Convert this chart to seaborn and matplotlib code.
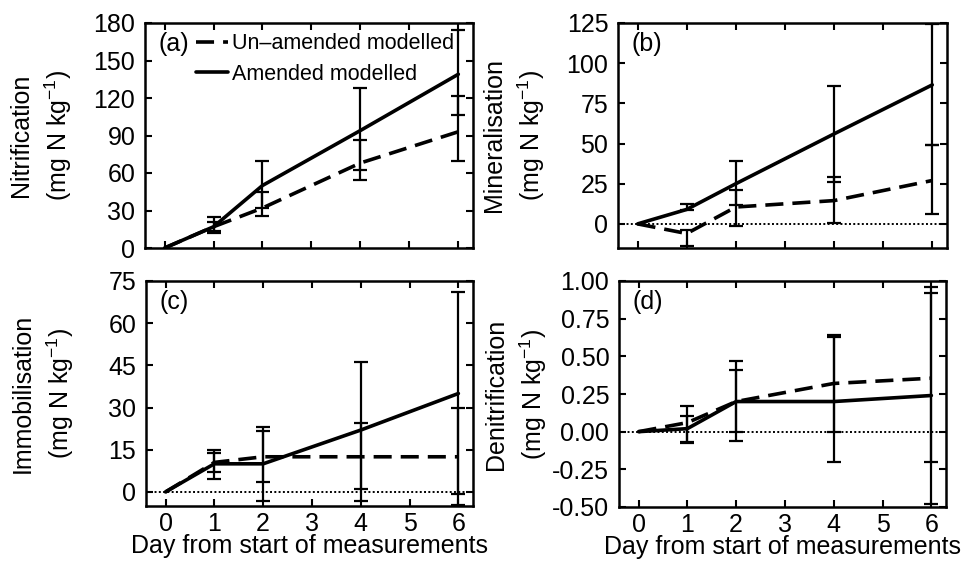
import matplotlib
matplotlib.use("Agg")
import numpy as np
import pandas as pd
import matplotlib.pyplot as plt
from matplotlib.lines import Line2D
import seaborn as sns

sns.set_style("ticks")
plt.rcParams["font.family"] = ["Liberation Sans", "DejaVu Sans"]
plt.rcParams["mathtext.fontset"] = "custom"
plt.rcParams["mathtext.rm"] = "Liberation Sans"
plt.rcParams["mathtext.it"] = "Liberation Sans:italic"
plt.rcParams["mathtext.bf"] = "Liberation Sans:bold"
plt.rcParams["axes.unicode_minus"] = False
for key in ["text.color", "axes.labelcolor", "xtick.color", "ytick.color", "axes.edgecolor"]:
    plt.rcParams[key] = "black"

# ---------------- data ----------------
days_model = [0, 1, 2, 4, 6]
days_obs = [1, 2, 4, 6]
series_names = ["Un\u2013amended modelled", "Amended modelled"]

# (a) Nitrification
nit_unamended_model = [0, 17, 32, 68, 93]
nit_amended_model = [0, 17, 50, 94, 139]
nit_amended_obs = [18.5, 51, 95.4, 140.7]
nit_amended_err = [6.5, 19, 32.7, 34]
nit_unamended_obs = [17.5, 35, 70.4, 95.6]
nit_unamended_err = [3.5, 9.6, 15.7, 26.3]

# (b) Mineralisation
min_unamended_model = [0, -6, 10.5, 14.5, 27]
min_amended_model = [0, 9, 25, 56, 86.5]
min_amended_obs = [10.5, 25.5, 56, 86.7]
min_amended_err = [2, 13.5, 30, 37.7]
min_unamended_obs = [-9, 9.7, 14.7, 27.6]
min_unamended_err = [5, 11.2, 14.3, 21.4]

# (c) Immobilisation
imm_unamended_model = [0, 10.5, 12.5, 12.5, 12.5]
imm_amended_model = [0, 10, 10, 22, 35]
imm_amended_obs = [9.8, 9.9, 21.5, 35.2]
imm_amended_err = [5.2, 13.2, 24.8, 35.8]
imm_unamended_obs = [10.4, 12.6, 12.7, 12.5]
imm_unamended_err = [3.4, 8.9, 11.7, 17.2]

# (d) Denitrification
den_unamended_model = [0, 0.06, 0.2, 0.32, 0.355]
den_amended_model = [0, 0.02, 0.2, 0.2, 0.24]
den_amended_obs = [0.015, 0.205, 0.215, 0.24]
den_amended_err = [0.088, 0.265, 0.415, 0.72]
den_unamended_obs = [0.05, 0.205, 0.32, 0.36]
den_unamended_err = [0.12, 0.205, 0.32, 0.56]

panels = [
    dict(letter="(a)", name="Nitrification", um=nit_unamended_model, am=nit_amended_model,
         ao=nit_amended_obs, ae=nit_amended_err, uo=nit_unamended_obs, ue=nit_unamended_err,
         ylim=(0, 180), yticks=[0, 30, 60, 90, 120, 150, 180], fmt="{:.0f}", zero=False,
         rect=[145, 23, 473, 248]),
    dict(letter="(b)", name="Mineralisation", um=min_unamended_model, am=min_amended_model,
         ao=min_amended_obs, ae=min_amended_err, uo=min_unamended_obs, ue=min_unamended_err,
         ylim=(-15, 125), yticks=[0, 25, 50, 75, 100, 125], fmt="{:.0f}", zero=True,
         rect=[618, 23, 947, 248]),
    dict(letter="(c)", name="Immobilisation", um=imm_unamended_model, am=imm_amended_model,
         ao=imm_amended_obs, ae=imm_amended_err, uo=imm_unamended_obs, ue=imm_unamended_err,
         ylim=(-5, 75), yticks=[0, 15, 30, 45, 60, 75], fmt="{:.0f}", zero=True,
         rect=[146, 281, 473, 506]),
    dict(letter="(d)", name="Denitrification", um=den_unamended_model, am=den_amended_model,
         ao=den_amended_obs, ae=den_amended_err, uo=den_unamended_obs, ue=den_unamended_err,
         ylim=(-0.5, 1.0), yticks=[-0.5, -0.25, 0, 0.25, 0.5, 0.75, 1.0], fmt="{:.2f}", zero=True,
         rect=[619, 281, 946, 507]),
]

W, H = 978, 564
fig = plt.figure(figsize=(W / 100, H / 100), dpi=100)

FS = 18
for i, p in enumerate(panels):
    l, t, r, b = p["rect"]
    ax = fig.add_axes([l / W, 1 - b / H, (r - l) / W, (b - t) / H])

    df = pd.DataFrame({
        "day": days_model * 2,
        "value": list(p["um"]) + list(p["am"]),
        "series": [series_names[0]] * 5 + [series_names[1]] * 5,
    })
    if p["zero"]:
        ax.axhline(0, color="black", ls=(0, (1, 1.2)), lw=1.4, zorder=1)
    sns.lineplot(data=df, x="day", y="value", style="series",
                 dashes={series_names[0]: (5, 2.5), series_names[1]: ""},
                 color="black", lw=2.6, ax=ax, legend=False, zorder=3)

    ax.errorbar(days_obs, p["ao"], yerr=p["ae"], fmt="none", ecolor="black",
                elinewidth=1.6, capsize=5, capthick=1.6, zorder=2)
    ax.errorbar(days_obs, p["uo"], yerr=p["ue"], fmt="none", ecolor="black",
                elinewidth=1.6, capsize=5, capthick=1.6, zorder=2)

    ax.set_xlim(-0.4, 6.3)
    ax.set_ylim(*p["ylim"])
    ax.set_xticks(range(0, 7))
    ax.set_yticks(p["yticks"])
    ax.set_yticklabels([p["fmt"].format(v) for v in p["yticks"]])
    ax.tick_params(direction="in", top=True, right=True, length=5, width=1.5,
                   labelsize=FS, colors="black")
    ax.tick_params(axis="y", pad=7)
    ax.tick_params(axis="x", pad=4)
    for s in ax.spines.values():
        s.set_linewidth(1.8)
        s.set_color("black")
    if i < 2:
        ax.set_xticklabels([])
        ax.set_xlabel("")
    else:
        ax.set_xlabel("Day from start of measurements", fontsize=FS, labelpad=-1)
    ax.set_ylabel(p["name"] + "\n(mg N kg$^{-1}$)", fontsize=FS, linespacing=1.4)
    ax.yaxis.set_label_coords(-0.215, 0.5)

    ax.text(0.04, 0.905, p["letter"], transform=ax.transAxes, fontsize=FS,
            va="center", ha="left")

    if i == 0:
        handles = [Line2D([], [], color="black", lw=2.6, dashes=(5, 2.5)),
                   Line2D([], [], color="black", lw=2.6)]
        ax.legend(handles, series_names, loc="upper left", bbox_to_anchor=(0.155, 0.955),
                  frameon=False, fontsize=15.5, handlelength=1.5, handletextpad=0.2,
                  labelspacing=0.45, borderaxespad=0, borderpad=0)

fig.savefig("out.png", dpi=100)
